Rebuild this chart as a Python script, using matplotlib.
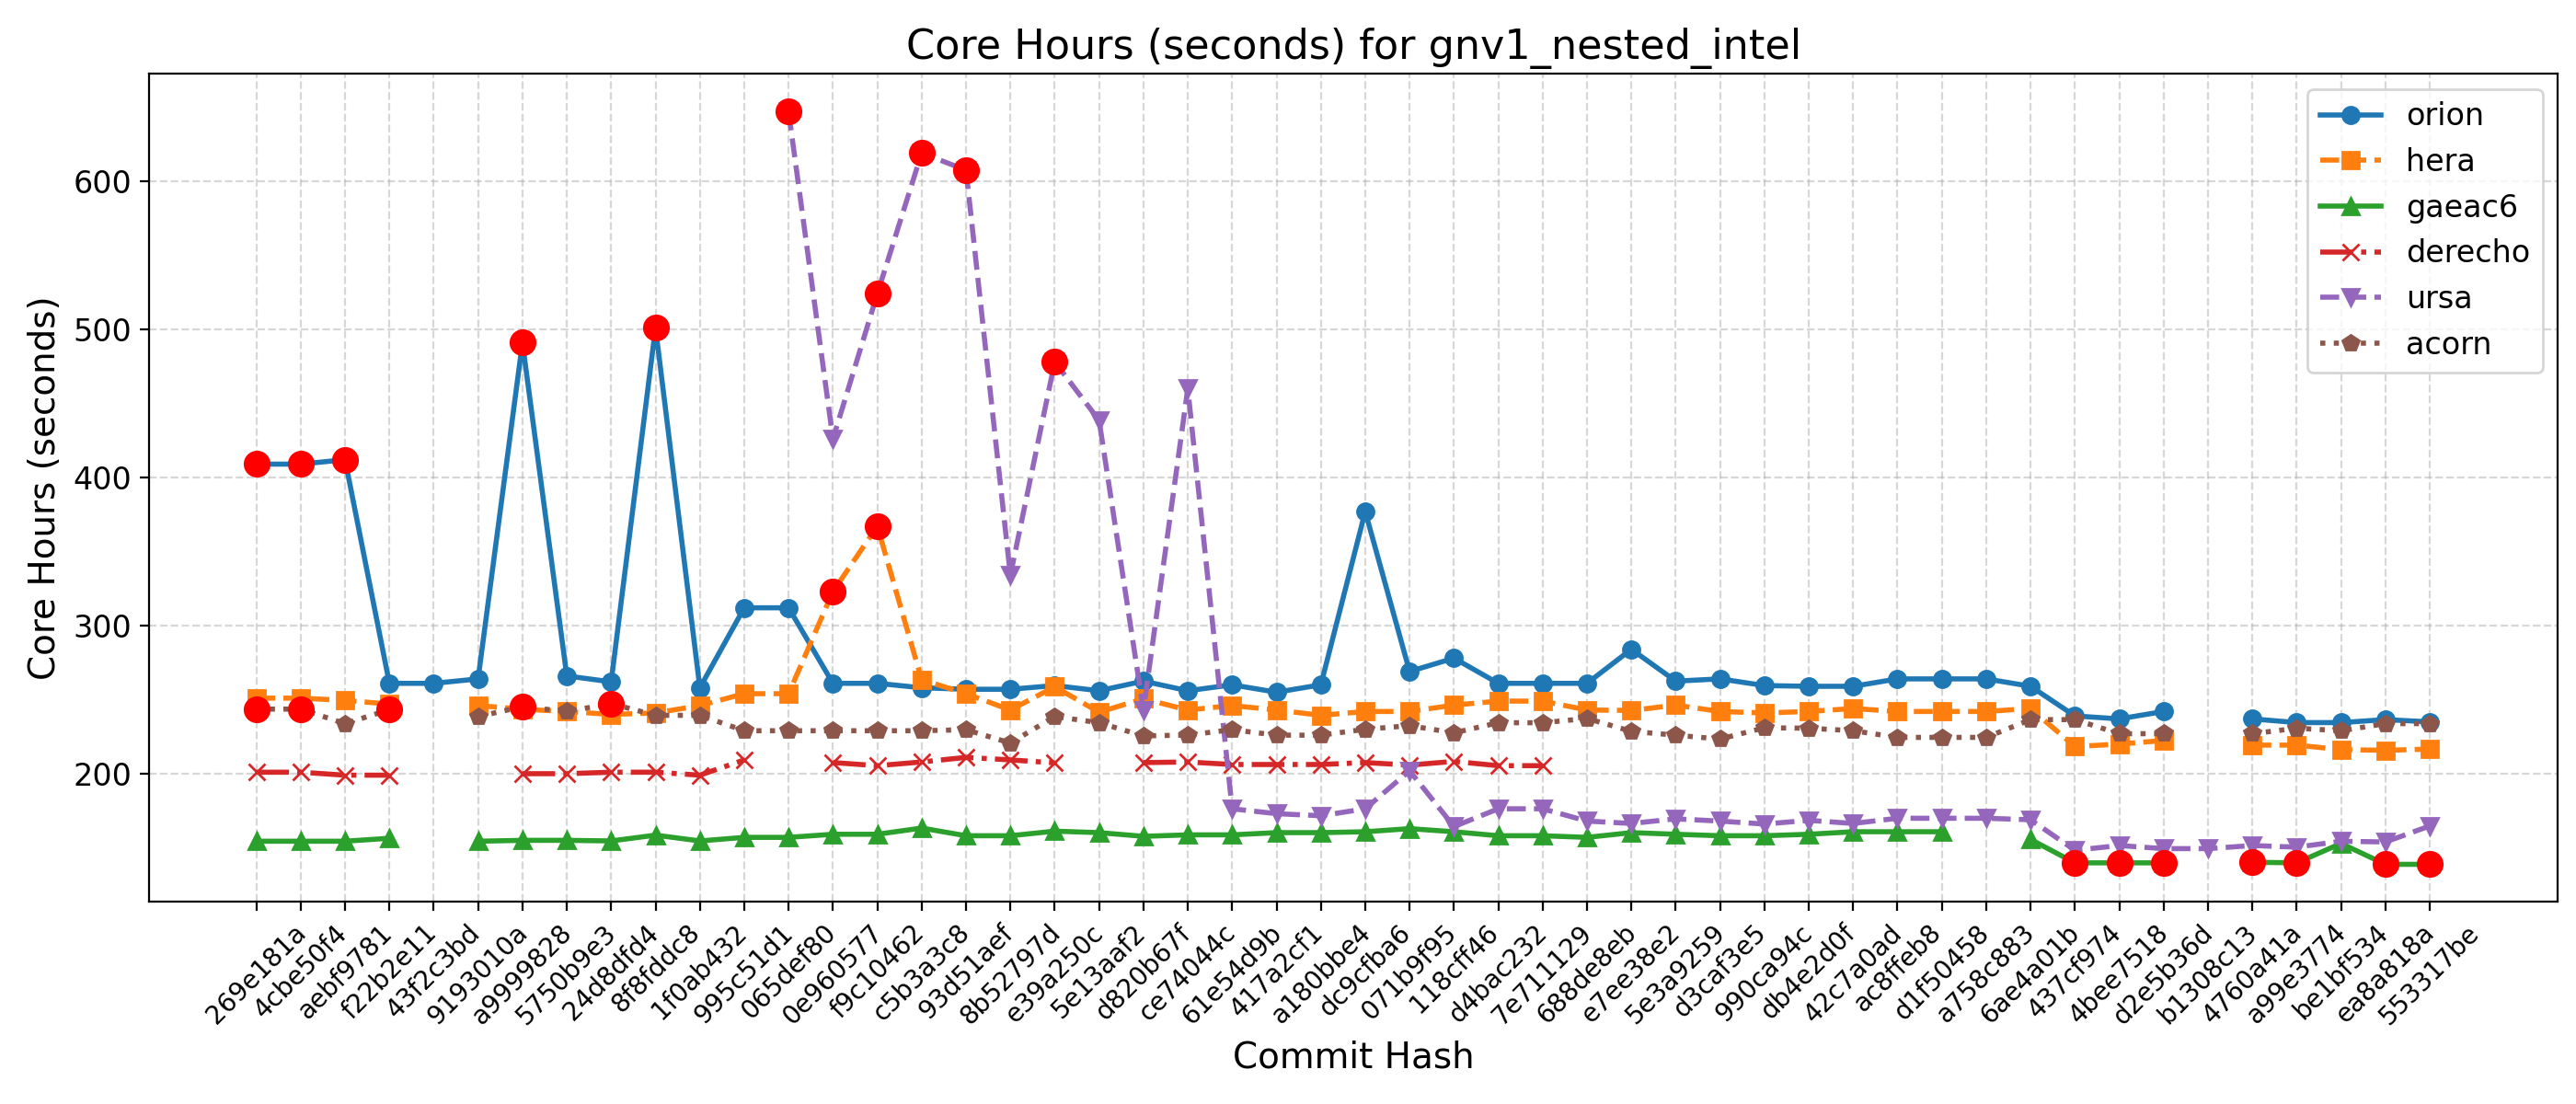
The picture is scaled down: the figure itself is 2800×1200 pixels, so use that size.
import numpy as np
import matplotlib
matplotlib.use("Agg")
import matplotlib.pyplot as plt

nan = np.nan

commits = ["269e181a", "4cbe50f4", "aebf9781", "f22b2e11", "43f2c3bd", "9193010a",
           "a9999828", "5750b9e3", "24d8dfd4", "8f8fddc8", "1f0ab432", "995c51d1",
           "065def80", "0e960577", "f9c10462", "c5b3a3c8", "93d51aef", "8b52797d",
           "e39a250c", "5e13aaf2", "d820b67f", "ce74044c", "61e54d9b", "417a2cf1",
           "a180bbe4", "dc9cfba6", "071b9f95", "118cff46", "d4bac232", "7e711129",
           "688de8eb", "e7ee38e2", "5e3a9259", "d3caf3e5", "990ca94c", "db4e2d0f",
           "42c7a0ad", "ac8ffeb8", "d1f50458", "a758c883", "6ae4a01b", "437cf974",
           "4bee7518", "d2e5b36d", "b1308c13", "4760a41a", "a99e3774", "be1bf534",
           "ea8a818a", "553317be"]

orion = [409, 409, 412, 261, 261, 264, 491, 266, 262, 501,
         258, 312, 312, 261, 261, 258, 257, 257, 259.5, 256,
         262.5, 256, 260, 255, 260, 377, 269, 278, 261, 261,
         261, 284, 262.5, 264, 259.5, 259, 259, 264, 264, 264,
         259, 239, 237, 242, nan, 237, 234.5, 234.5, 236.5, 235]

hera = [251, 251, 249.5, 247, nan, 246, 243.5, 242, 240, 241,
        246, 254, 254, 323, 367, 263.5, 254, 243, 258.7, 241.5,
        250.6, 243, 246, 243, 239.4, 242, 242, 246.3, 249, 249,
        243, 242.7, 246.3, 242, 241, 242, 244, 242, 242, 242,
        244, 218.3, 220, 222.4, nan, 219.3, 219.3, 216.2, 215.8, 216.6]

gaeac6 = [154.4, 154.4, 154.4, 156.4, nan, 154.4, 155, 155, 154.6, 158.5,
          154.6, 157, 157, 159.1, 159.1, 163.3, 158.1, 158.1, 161.2, 160.2,
          157.7, 158.7, 158.7, 160.2, 160.2, 160.8, 162.9, 160.8, 158.1, 158.1,
          157, 160.2, 159.1, 158.1, 158.1, 159.1, 160.8, 160.8, 160.8, nan,
          155.6, 139.8, 139.8, 139.8, nan, 140.2, 139.8, 152.9, 138.8, 138.8]

derecho = [201, 201, 199, 199, nan, nan, 200, 200, 201, 201,
           199, 209.3, nan, 207.5, 205.4, 207.9, 211, 209.3, 207.3, nan,
           207.5, 207.9, 206.2, 206.2, 206.2, 207.5, 205.8, 208.3, 205.4, 205.4,
           nan, nan, nan, nan, nan, nan, nan, nan, nan, nan,
           nan, nan, nan, nan, nan, nan, nan, nan, nan, nan]

ursa = [nan, nan, nan, nan, nan, nan, nan, nan, nan, nan,
        nan, nan, 647, 426, 524, 619, 607.5, 334, 478, 438.6,
        243, 460, 176.3, 173, 171.6, 176.3, 202, 164.3, 176.3, 176.3,
        168, 166.4, 169.5, 168, 166, 168.5, 166.4, 169.9, 169.9, 169.9,
        168.9, 148.3, 151.5, 149.4, 149.4, 151.5, 150.4, 154.4, 153.9, 164.7]

acorn = [243.6, 243.6, 233.8, 243.2, nan, 238.6, 245.2, 242, 247.3, 239.4,
         239.4, 229, 229, 229, 229, 229, 229.7, 220.7, 238.6, 234.4,
         225.5, 226.1, 229.7, 226, 226, 230, 232.4, 227.6, 234.4, 234.4,
         237.3, 228.6, 226, 223.4, 231, 230.7, 229, 224.5, 224.5, 224.5,
         236.5, 236.5, 227, 227, nan, 227, 230.7, 229, 233.8, 233.8]

# highlighted (red) points: series name -> indices of commits
highlights = {
    "orion": [0, 1, 2, 6, 9],
    "acorn": [0, 1, 3, 6, 8],
    "hera": [13, 14],
    "ursa": [12, 14, 15, 16, 18],
    "gaeac6": [41, 42, 43, 45, 46, 48, 49],
}

series = {"orion": orion, "hera": hera, "gaeac6": gaeac6,
          "derecho": derecho, "ursa": ursa, "acorn": acorn}
styles = {"orion": ("-", "o"), "hera": ("--", "s"), "gaeac6": ("-", "^"),
          "derecho": ("-.", "x"), "ursa": ("--", "v"), "acorn": (":", "p")}

fig, ax = plt.subplots(figsize=(14, 6), dpi=200)
fig.subplots_adjust(left=0.058, right=0.993, top=0.933, bottom=0.183)

x = np.arange(len(commits))
for name, vals in series.items():
    ls, mk = styles[name]
    ax.plot(x, vals, linestyle=ls, marker=mk, linewidth=2, markersize=6.5, label=name)

for name, idxs in highlights.items():
    vals = np.array(series[name])
    ax.scatter(x[idxs], vals[idxs], color="red", s=90, zorder=5)

ax.set_xticks(x)
ax.set_xticklabels(commits, rotation=45, fontsize=10)
ax.set_xlim(-2.41, len(commits) - 1 + 2.89)
ax.tick_params(axis="y", labelsize=12)
ax.set_title("Core Hours (seconds) for gnv1_nested_intel", fontsize=16)
ax.set_xlabel("Commit Hash", fontsize=14)
ax.set_ylabel("Core Hours (seconds)", fontsize=14)
ax.grid(True, linestyle="--", alpha=0.5)
ax.legend(loc="upper right", fontsize=12)

fig.savefig("out.png", dpi=200)
